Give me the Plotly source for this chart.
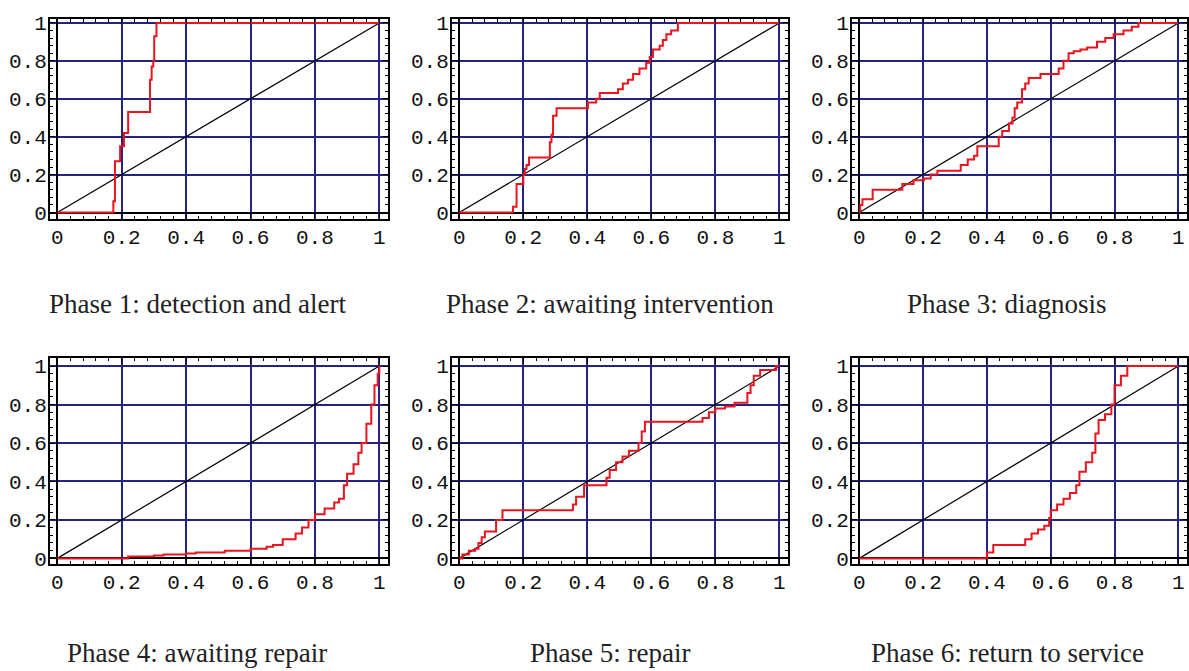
import plotly.graph_objects as go

W, H = 1189, 671

titles = ["Phase 1: detection and alert", "Phase 2: awaiting intervention", "Phase 3: diagnosis",
          "Phase 4: awaiting repair", "Phase 5: repair", "Phase 6: return to service"]

tick_vals = [0, 0.2, 0.4, 0.6, 0.8, 1]
tick_text = ["0", "0.2", "0.4", "0.6", "0.8", "1"]

# step curves: at x the curve jumps to y
p1_x = [0, 0.174, 0.179, 0.195, 0.207, 0.22, 0.288, 0.293, 0.298, 0.301, 0.308, 1.0]
p1_y = [0, 0.06, 0.27, 0.35, 0.42, 0.53, 0.70, 0.77, 0.80, 0.93, 1.0, 1.0]

p2_x = [0, 0.168, 0.179, 0.200, 0.205, 0.210, 0.218, 0.283, 0.288, 0.293, 0.304, 0.402, 0.428, 0.439,
        0.496, 0.511, 0.527, 0.543, 0.563, 0.584, 0.595, 0.605, 0.626, 0.636, 0.647, 0.662, 0.683, 1.0]
p2_y = [0, 0.03, 0.15, 0.20, 0.23, 0.25, 0.29, 0.37, 0.41, 0.51, 0.55, 0.58, 0.60, 0.63,
        0.65, 0.68, 0.70, 0.73, 0.76, 0.79, 0.82, 0.86, 0.88, 0.91, 0.94, 0.96, 1.0, 1.0]

p3_x = [0, 0.003, 0.010, 0.042, 0.135, 0.170, 0.203, 0.224, 0.245, 0.318, 0.340, 0.360, 0.370, 0.437,
        0.448, 0.469, 0.480, 0.487, 0.495, 0.510, 0.520, 0.531, 0.568, 0.625, 0.640, 0.656, 0.672,
        0.693, 0.714, 0.745, 0.771, 0.797, 0.828, 0.854, 0.875, 0.890, 1.0]
p3_y = [0, 0.04, 0.07, 0.12, 0.15, 0.17, 0.18, 0.20, 0.22, 0.25, 0.28, 0.30, 0.35, 0.40,
        0.43, 0.47, 0.50, 0.55, 0.58, 0.65, 0.68, 0.71, 0.73, 0.76, 0.80, 0.84, 0.85,
        0.86, 0.87, 0.90, 0.92, 0.94, 0.96, 0.98, 1.0, 1.0, 1.0]

p4_x = [0, 0.22, 0.30, 0.33, 0.40, 0.43, 0.52, 0.60, 0.65, 0.67, 0.70, 0.74, 0.76, 0.78, 0.80, 0.83,
        0.86, 0.875, 0.89, 0.90, 0.92, 0.935, 0.945, 0.96, 0.975, 0.985, 0.995, 1.0]
p4_y = [0, 0.01, 0.015, 0.02, 0.025, 0.03, 0.04, 0.05, 0.06, 0.07, 0.10, 0.13, 0.16, 0.20, 0.23, 0.26,
        0.29, 0.31, 0.38, 0.44, 0.49, 0.55, 0.60, 0.70, 0.80, 0.90, 0.96, 1.0]

p5_x = [0, 0.01, 0.03, 0.05, 0.06, 0.07, 0.08, 0.115, 0.135, 0.355, 0.365, 0.39, 0.46, 0.47, 0.49,
        0.51, 0.53, 0.56, 0.57, 0.58, 0.76, 0.78, 0.80, 0.83, 0.86, 0.90, 0.91, 0.92, 0.94, 0.99, 1.0]
p5_y = [0, 0.02, 0.04, 0.05, 0.08, 0.11, 0.14, 0.20, 0.25, 0.28, 0.32, 0.38, 0.42, 0.46, 0.50,
        0.53, 0.56, 0.60, 0.66, 0.71, 0.73, 0.76, 0.78, 0.79, 0.81, 0.86, 0.90, 0.95, 0.98, 1.0, 1.0]

p6_x = [0, 0.40, 0.42, 0.52, 0.54, 0.56, 0.58, 0.595, 0.60, 0.62, 0.64, 0.66, 0.68, 0.69, 0.71,
        0.73, 0.74, 0.75, 0.77, 0.79, 0.80, 0.82, 0.84, 1.0]
p6_y = [0, 0.03, 0.07, 0.10, 0.13, 0.15, 0.17, 0.21, 0.25, 0.28, 0.31, 0.34, 0.38, 0.45, 0.50,
        0.55, 0.65, 0.72, 0.75, 0.80, 0.90, 0.95, 1.0, 1.0]

diag = [0, 1]

series = [(p1_x, p1_y), (p2_x, p2_y), (p3_x, p3_y), (p4_x, p4_y), (p5_x, p5_y), (p6_x, p6_y)]

cols_px = [(50, 388), (452, 788), (852, 1187)]
rows_px = [(14, 218), (360, 570)]
yranges = [(-0.033, 1.022), (-0.029, 1.042)]
title_y_px = [305, 661]
title_x_px = [197, 610, 1007]

NAVY = "#24247e"
RED = "#e8141e"

fig = go.Figure()
layout = dict(width=W, height=H, margin=dict(l=0, r=0, t=0, b=0),
              paper_bgcolor="white", plot_bgcolor="white", showlegend=False)
annotations = []

for i in range(6):
    r, c = divmod(i, 3)
    n = "" if i == 0 else str(i + 1)
    xa, ya = "x" + n, "y" + n
    sx, sy = series[i]
    fig.add_trace(go.Scatter(x=diag, y=diag, mode="lines", line=dict(color="black", width=1.2),
                             xaxis=xa, yaxis=ya, hoverinfo="skip"))
    fig.add_trace(go.Scatter(x=sx, y=sy, mode="lines", line=dict(color=RED, width=2, shape="hv"),
                             xaxis=xa, yaxis=ya))
    x0, x1 = cols_px[c]
    t0, t1 = rows_px[r]
    common = dict(showline=True, linecolor="black", linewidth=2, mirror="allticks",
                  ticks="inside", ticklen=5, tickcolor="black", tickwidth=1,
                  tickvals=tick_vals, ticktext=tick_text,
                  tickfont=dict(family="Liberation Mono, Courier New, monospace", size=21, color="#111"),
                  showgrid=True, gridcolor=NAVY, gridwidth=1.6,
                  zeroline=True, zerolinecolor="black", zerolinewidth=2,
                  minor=dict(ticks="inside", dtick=0.04, ticklen=3, tickcolor="black", tickwidth=1,
                             showgrid=False),
                  ticklabeloverflow="allow", fixedrange=True)
    layout["xaxis" + n] = dict(common, domain=[x0 / W, x1 / W], anchor=ya,
                               range=[-0.0227, 1.027], ticklabelstandoff=-2)
    layout["yaxis" + n] = dict(common, domain=[1 - t1 / H, 1 - t0 / H], anchor=xa,
                               range=list(yranges[r]), ticklabelstandoff=-3)
    annotations.append(dict(text=titles[i], x=title_x_px[c] / W, y=1 - title_y_px[r] / H,
                            xref="paper", yref="paper", showarrow=False,
                            xanchor="center", yanchor="middle",
                            font=dict(family="Liberation Serif, Times New Roman, serif", size=27,
                                      color="#222")))

layout["annotations"] = annotations
fig.update_layout(**layout)
fig.write_html("out.html", config={"displayModeBar": False},
               post_script="document.body.style.margin='0px';")
